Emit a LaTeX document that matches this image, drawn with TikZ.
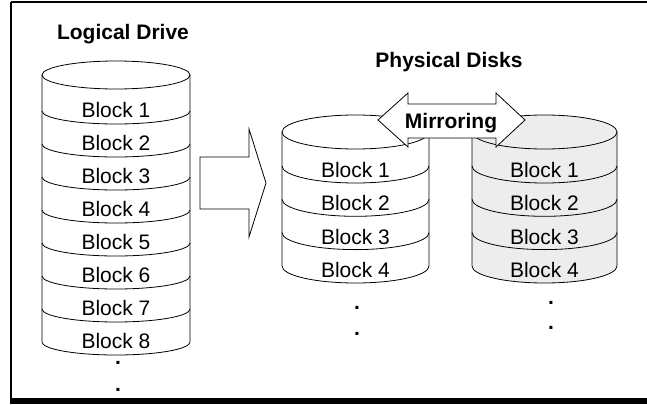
\documentclass[tikz,border=0pt]{standalone}
\usepackage{fontspec}
\setmainfont{Liberation Sans}
\usetikzlibrary{positioning}
\tikzset{
  outline/.style={draw, line width=0.8pt},
  blocklabel/.style={font=\fontsize{21}{24}\selectfont, inner sep=0pt},
  heading/.style={font=\fontsize{21}{24}\selectfont\bfseries, inner sep=0pt, anchor=base},
  dotmark/.style={font=\fontsize{21}{24}\selectfont\bfseries, inner sep=0pt},
  bigarrow/.style={draw, fill=white, line width=0.8pt, line join=miter},
  copyfill/.style={fill=gray!14},
}

\begin{document}
\begin{tikzpicture}[x=1pt, y=-1pt]
  \useasboundingbox (0,0) rectangle (647,404);
  % Frame
  \draw[line width=1.5pt] (11,2) -- (660,2);
  \draw[line width=2.5pt] (11,2) -- (11,399);
  \fill (9.75,398) rectangle (660,404);

  % Logical drive
  \node[heading] (logical) at (123,40) {Logical Drive};
  \draw[outline] (42,75) -- (42,342) arc[start angle=180, end angle=0, x radius=74, y radius=13] -- (190,75);
  \draw[outline] (116,75) ellipse[x radius=74, y radius=14];
  \foreach \k in {1,...,7} {
    \draw[outline] (42,{111+33*(\k-1)}) arc[start angle=180, end angle=0, x radius=74, y radius=13];
  }
  \foreach \k in {1,...,8} {
    \node[blocklabel] (ld\k) at (116,{110+33*(\k-1)}) {Block \k};
  }
  \node[dotmark] (lddot1) at (118,363) {.};
  \node[dotmark] (lddot2) at (118,390) {.};

  % Split arrow
  \draw[bigarrow] (200,157) -- (249,157) -- (249,129) -- (266,183) -- (249,237) -- (249,209) -- (200,209) -- cycle;

  % Physical disks
  \node[heading] (physical) at (449,67) {Physical Disks};

  % Primary disk
  \draw[outline] (282,132) -- (282,266) arc[start angle=180, end angle=0, x radius=73.5, y radius=17] -- (429,132);
  \draw[outline] (355.5,132) ellipse[x radius=73.5, y radius=17];
  \foreach \k in {1,...,3} {
    \draw[outline] (282,{166+33.3*(\k-1)}) arc[start angle=180, end angle=0, x radius=73.5, y radius=17];
  }
  \foreach \k in {1,...,4} {
    \node[blocklabel] (pa\k) at (355.5,{170+33.3*(\k-1)}) {Block \k};
  }
  \node[dotmark] (padot1) at (357,308) {.};
  \node[dotmark] (padot2) at (357,334) {.};

  % Mirror disk
  \fill[copyfill] (472,266) arc[start angle=180, end angle=0, x radius=72.5, y radius=17] -- (617,132)
    arc[start angle=0, end angle=-180, x radius=72.5, y radius=17] -- cycle;
  \draw[outline] (472,132) -- (472,266) arc[start angle=180, end angle=0, x radius=72.5, y radius=17] -- (617,132);
  \draw[outline] (544.5,132) ellipse[x radius=72.5, y radius=17];
  \foreach \k in {1,...,3} {
    \draw[outline] (472,{166+33.3*(\k-1)}) arc[start angle=180, end angle=0, x radius=72.5, y radius=17];
  }
  \foreach \k in {1,...,4} {
    \node[blocklabel] (pb\k) at (544.5,{170+33.3*(\k-1)}) {Block \k};
  }
  \node[dotmark] (pbdot1) at (551,303) {.};
  \node[dotmark] (pbdot2) at (551,328) {.};

  % Mirroring arrow
  \draw[bigarrow] (378,120) -- (408,93) -- (408,104) -- (496,104) -- (496,93) -- (525,120)
    -- (496,147) -- (496,138) -- (408,138) -- (408,147) -- cycle;
  \node[heading] (mirror) at (451,128) {Mirroring};
\end{tikzpicture}
\end{document}
